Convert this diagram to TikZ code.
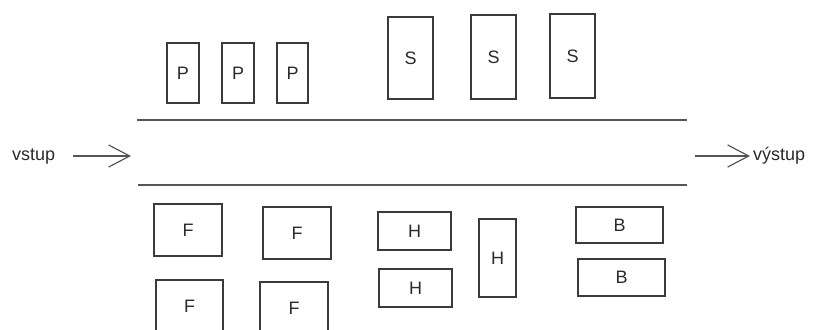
\documentclass[tikz,border=0pt]{standalone}
\usepackage{fontspec}
\setmainfont{Liberation Sans}
\usetikzlibrary{arrows.meta}
\definecolor{boxc}{HTML}{3A3A3A}
\definecolor{linec}{HTML}{555555}
\definecolor{txtc}{HTML}{2A2A2A}
\tikzset{
  unit/.style={draw=boxc, line width=1.2pt, inner sep=0pt, font=\fontsize{18}{20}\selectfont, text=txtc},
  rail/.style={draw=linec, line width=1.7pt},
  flow/.style={draw=linec, line width=1.2pt, -{Straight Barb[length=21pt,width=22pt,line width=1.2pt]}},
  lbl/.style={inner sep=0pt, font=\fontsize{18}{20}\selectfont, text=txtc}
}
\begin{document}
\begin{tikzpicture}[x=1pt,y=-1pt]
\useasboundingbox (0,0) rectangle (813,329);
% top units
\node[unit, minimum width=32pt, minimum height=60pt] (p1) at (183,73) {P};
\node[unit, minimum width=32pt, minimum height=60pt] (p2) at (238,73) {P};
\node[unit, minimum width=31pt, minimum height=60pt] (p3) at (292.5,73) {P};
\node[unit, minimum width=45pt, minimum height=82pt] (s1) at (410.5,58) {S};
\node[unit, minimum width=45pt, minimum height=84pt] (s2) at (493.5,57) {S};
\node[unit, minimum width=45pt, minimum height=84pt] (s3) at (572.5,56) {S};
% rails
\coordinate (t1) at (137,120);
\coordinate (t2) at (687,120);
\coordinate (b1) at (138,185);
\coordinate (b2) at (687,185);
\draw[rail] (t1) -- (t2);
\draw[rail] (b1) -- (b2);
% input / output
\node[lbl, anchor=base west] (vstup) at (12,160) {vstup};
\coordinate (inE) at (131,156);
\draw[flow, shorten <=18pt] (vstup.east |- inE) -- (inE);
\node[lbl, anchor=base west] (vystup) at (753,160) {výstup};
\coordinate (outS) at (695,156);
\draw[flow, shorten >=3pt] (outS) -- (vystup.west |- outS);
% bottom units
\node[unit, minimum width=68pt, minimum height=52pt] (f1) at (188,230) {F};
\node[unit, minimum width=68pt, minimum height=52pt] (f2) at (297,233) {F};
\node[unit, minimum width=67pt, minimum height=52pt] (f3) at (189.5,306) {F};
\node[unit, minimum width=68pt, minimum height=52pt] (f4) at (294,308) {F};
\node[unit, minimum width=73pt, minimum height=38pt] (h1) at (414.5,231) {H};
\node[unit, minimum width=73pt, minimum height=38pt] (h2) at (415.5,288) {H};
\node[unit, minimum width=37pt, minimum height=78pt] (h3) at (497.5,258) {H};
\node[unit, minimum width=87pt, minimum height=36pt] (bb1) at (619.5,225) {B};
\node[unit, minimum width=87pt, minimum height=37pt] (bb2) at (621.5,277.5) {B};
\end{tikzpicture}
\end{document}
